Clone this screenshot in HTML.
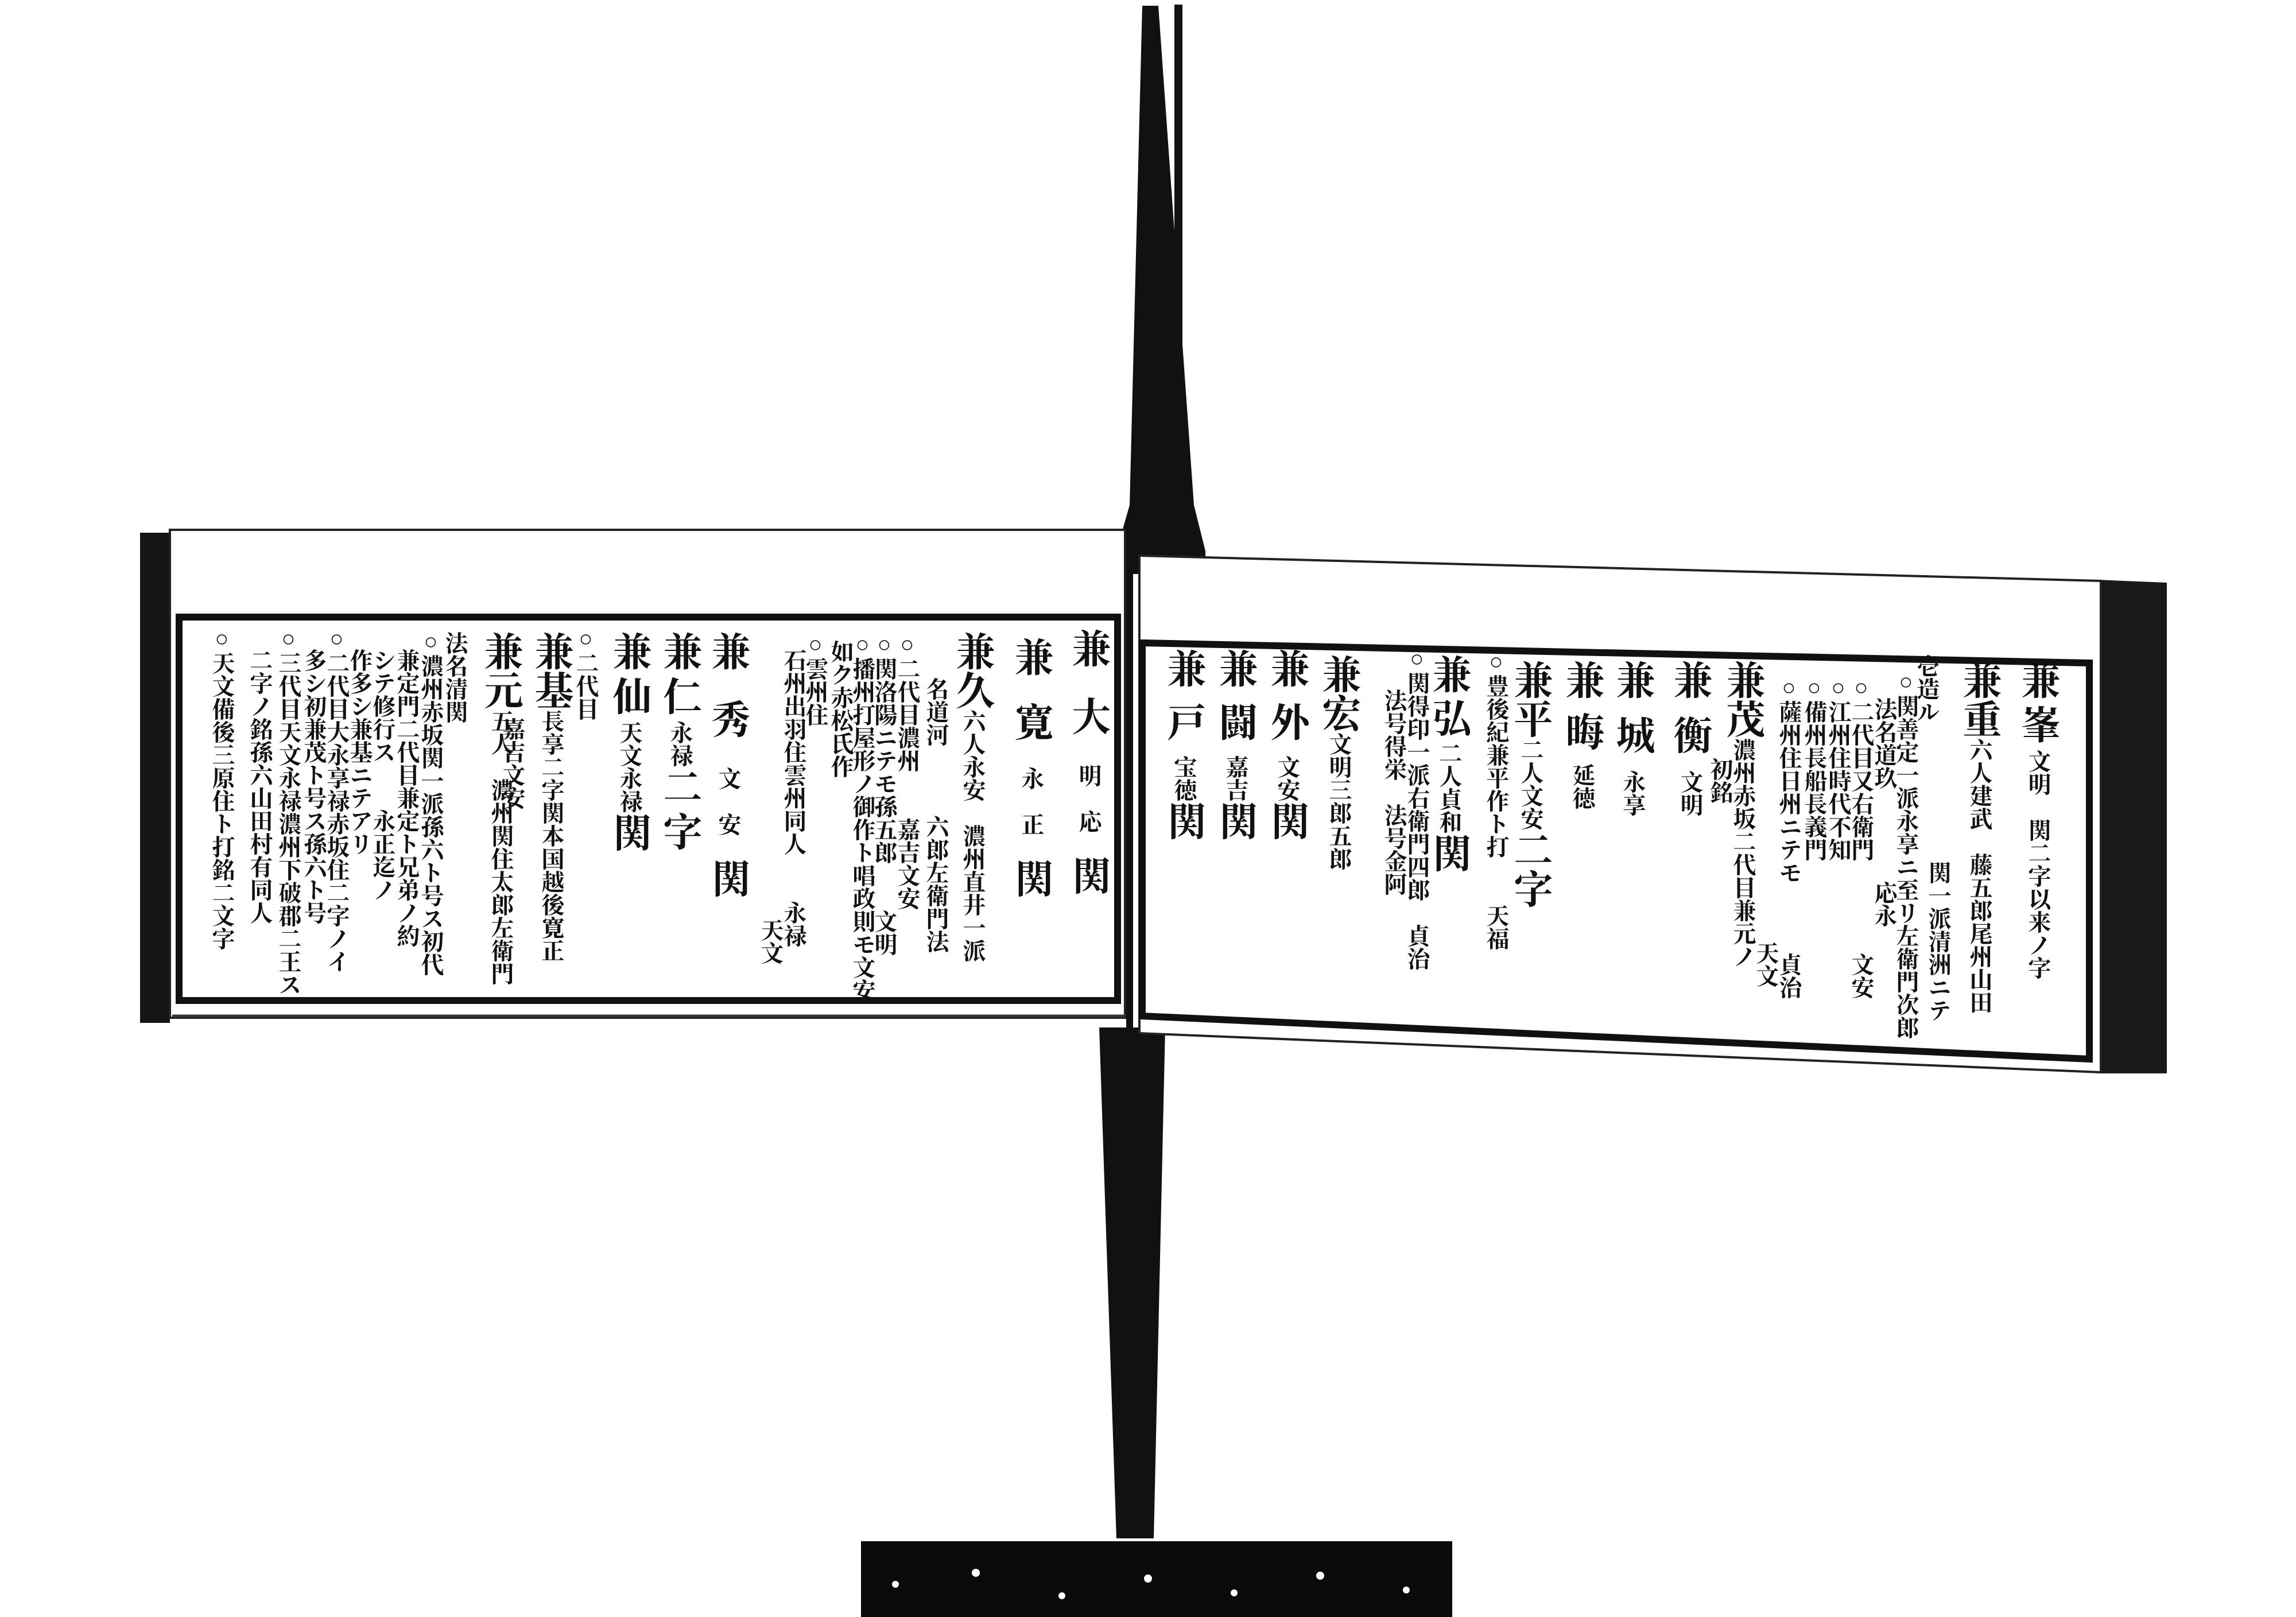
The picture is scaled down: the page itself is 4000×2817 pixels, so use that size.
<!DOCTYPE html>
<html><head><meta charset="utf-8"><style>
html,body{margin:0;padding:0;background:#fff}
#w{position:relative;width:4000px;height:2817px;overflow:hidden;background:#fff}
.a{position:absolute}
.c{position:absolute;writing-mode:vertical-rl;font-family:"Liberation Serif","Noto Serif CJK SC","Noto Sans CJK JP",serif;font-weight:bold;color:#111;white-space:nowrap;line-height:1}
.b{font-size:68px}
.s{font-size:40px}
.c.b .s{letter-spacing:0}
</style></head><body><div id="w">
<svg class="a" style="left:0;top:0" width="4000" height="2817">
<polygon points="1990,10 2018,10 2080,880 2100,960 2100,1000 1940,1000 1945,960 1968,880" fill="#111"/>
<rect x="2046" y="8" width="14" height="980" fill="#111"/>
<polygon points="1915,1790 2030,1790 2010,2680 1945,2680" fill="#111"/>
<rect x="1500" y="2685" width="1030" height="132" fill="#0a0a0a"/>
<g fill="#fff"><circle cx="1560" cy="2760" r="6"/><circle cx="1700" cy="2740" r="7"/><circle cx="1850" cy="2780" r="6"/><circle cx="2000" cy="2750" r="7"/><circle cx="2150" cy="2775" r="6"/><circle cx="2300" cy="2745" r="7"/><circle cx="2450" cy="2770" r="6"/></g>
<rect x="244" y="928" width="52" height="854" fill="#151515"/>
<rect x="296" y="923" width="1664" height="850" fill="#fff" stroke="#222" stroke-width="4"/>
<rect x="312" y="1075" width="1635" height="668" fill="none" stroke="#111" stroke-width="12"/>
<line x1="300" y1="1770" x2="1960" y2="1770" stroke="#333" stroke-width="5"/>
<rect x="1962" y="925" width="12" height="870" fill="#111"/>
<polygon points="3654,1010 3775,1015 3775,1870 3654,1870" fill="#1a1a1a"/>
<polygon points="1985,968 3660,1012 3660,1868 1985,1800" fill="#fff" stroke="#222" stroke-width="4"/>
<polygon points="1990,1120 3640,1155 3640,1845 1990,1770" fill="none" stroke="#111" stroke-width="12"/>
</svg>
<!-- left page -->
<div class="c b" style="left:1862px;top:1095px;letter-spacing:50px">兼大<span class="s" style="letter-spacing:40px">明応</span>関</div>
<div class="c b" style="left:1762px;top:1110px;letter-spacing:45px">兼寛<span class="s" style="letter-spacing:40px">永正</span>関</div>
<div class="c b" style="left:1660px;top:1100px">兼久<span class="s">六人永安　濃州直井一派</span></div>
<div class="c s" style="left:1610px;top:1180px">名道河　　　六郎左衛門法</div>
<div class="c s" style="left:1560px;top:1100px">○二代目濃州　　嘉吉文安</div>
<div class="c s" style="left:1520px;top:1100px">○関洛陽ニテモ孫五郎　　文明</div>
<div class="c s" style="left:1482px;top:1100px">○播州打屋形ノ御作ト唱政則モ文安</div>
<div class="c s" style="left:1444px;top:1115px">如ク赤松氏作</div>
<div class="c s" style="left:1400px;top:1100px">○雲州住</div>
<div class="c s" style="left:1362px;top:1130px">石州出羽住雲州同人　　永禄</div>
<div class="c s" style="left:1322px;top:1600px">天文</div>
<div class="c b" style="left:1234px;top:1100px;letter-spacing:50px">兼秀<span class="s" style="letter-spacing:40px">文安</span>関</div>
<div class="c b" style="left:1150px;top:1100px;letter-spacing:10px">兼仁<span class="s">永禄</span>二字</div>
<div class="c b" style="left:1062px;top:1100px;letter-spacing:10px">兼仙<span class="s">天文永禄</span>関</div>
<div class="c s" style="left:1000px;top:1090px">○二代目</div>
<div class="c b" style="left:926px;top:1100px">兼基<span class="s">長享二字関本国越後寛正</span></div>
<div class="c s" style="left:1470px;top:1100px;display:none"></div>
<div class="c b" style="left:838px;top:1100px">兼元<span class="s">五人　濃州関住太郎左衛門</span></div>
<div class="c s" style="left:872px;top:1250px">嘉吉文安</div>
<div class="c s" style="left:772px;top:1100px">法名清関</div>
<div class="c s" style="left:730px;top:1095px">○濃州赤坂関一派孫六ト号ス初代</div>
<div class="c s" style="left:688px;top:1130px">兼定門二代目兼定ト兄弟ノ約</div>
<div class="c s" style="left:646px;top:1130px">シテ修行ス　　永正迄ノ</div>
<div class="c s" style="left:606px;top:1130px">作多シ兼基ニテアリ</div>
<div class="c s" style="left:566px;top:1090px">○二代目大永享禄赤坂住二字ノイ</div>
<div class="c s" style="left:526px;top:1130px">多シ初兼茂ト号ス孫六ト号</div>
<div class="c s" style="left:482px;top:1090px">○三代目天文永禄濃州下破郡二王ス</div>
<div class="c s" style="left:432px;top:1130px">二字ノ銘孫六山田村有同人</div>
<div class="c s" style="left:366px;top:1090px">○天文備後三原住ト打銘二文字</div>
<!-- right page -->
<div class="c b" style="left:3516px;top:1150px;letter-spacing:10px">兼峯<span class="s">文明　関二字以来ノ字</span></div>
<div class="c b" style="left:3414px;top:1150px">兼重<span class="s">六人建武　藤五郎尾州山田</span></div>
<div class="c s" style="left:3356px;top:1500px">関一派清洲ニテ</div>
<div class="c s" style="left:3336px;top:1140px">壱造ル</div>
<div class="c s" style="left:3300px;top:1165px">○関善定一派永享ニ至リ左衛門次郎</div>
<div class="c s" style="left:3262px;top:1215px">法名道玖　　　　応永</div>
<div class="c s" style="left:3222px;top:1175px">○二代目又右衛門　　　　文安</div>
<div class="c s" style="left:3182px;top:1175px">○江州住時代不知</div>
<div class="c s" style="left:3140px;top:1175px">○備州長船長義門</div>
<div class="c s" style="left:3096px;top:1175px">○薩州住日州ニテモ　　　貞治</div>
<div class="c s" style="left:3056px;top:1640px">天文</div>
<div class="c b" style="left:3002px;top:1150px">兼茂<span class="s">濃州赤坂二代目兼元ノ</span></div>
<div class="c s" style="left:2976px;top:1320px">初銘</div>
<div class="c b" style="left:2910px;top:1150px;letter-spacing:28px">兼衡<span class="s">文明</span></div>
<div class="c b" style="left:2810px;top:1150px;letter-spacing:28px">兼城<span class="s">永享</span></div>
<div class="c b" style="left:2722px;top:1150px;letter-spacing:22px">兼晦<span class="s">延徳</span></div>
<div class="c b" style="left:2632px;top:1150px">兼平<span class="s">二人文安</span>二字</div>
<div class="c s" style="left:2586px;top:1130px">○豊後紀兼平作ト打　　天福</div>
<div class="c b" style="left:2490px;top:1140px;letter-spacing:8px">兼弘<span class="s">二人貞和</span>関</div>
<div class="c s" style="left:2448px;top:1125px">○関得印一派右衛門四郎　貞治</div>
<div class="c s" style="left:2408px;top:1200px">法号得栄　法号金阿</div>
<div class="c b" style="left:2298px;top:1140px">兼宏<span class="s">文明三郎五郎</span></div>
<div class="c b" style="left:2208px;top:1130px;letter-spacing:25px">兼外<span class="s">文安</span>関</div>
<div class="c b" style="left:2118px;top:1130px;letter-spacing:25px">兼闘<span class="s">嘉吉</span>関</div>
<div class="c b" style="left:2028px;top:1130px;letter-spacing:25px">兼戸<span class="s">宝徳</span>関</div>
</div></body></html>
